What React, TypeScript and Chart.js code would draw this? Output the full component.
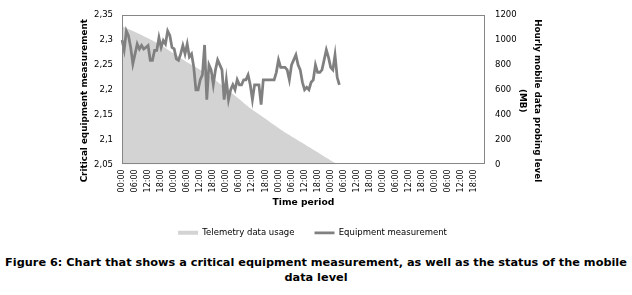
import React, { useEffect, useRef } from "react";
import { Chart, registerables } from "chart.js";

Chart.register(...registerables);

// ---- data -------------------------------------------------------------
const HOURS = [
  "00:00", "01:00", "02:00", "03:00", "04:00", "05:00", "06:00", "07:00",
  "08:00", "09:00", "10:00", "11:00", "12:00", "13:00", "14:00", "15:00",
  "16:00", "17:00", "18:00", "19:00", "20:00", "21:00", "22:00", "23:00",
];
const DAY_COUNT = 7;
const LABEL_EVERY = 6;
const CATEGORIES: string[] = [];
for (let d = 0; d < DAY_COUNT; d++) for (const h of HOURS) CATEGORIES.push(h);

const LEFT_TICKS = ["2,05", "2,1", "2,15", "2,2", "2,25", "2,3", "2,35"];
const RIGHT_TICKS = ["0", "200", "400", "600", "800", "1000", "1200"];

const X_TITLE = "Time period";
const LEFT_TITLE = "Critical equipment measurement";
const RIGHT_TITLE = ["Hourly mobile data probing level", "(MB)"];

// Hourly equipment measurement (left axis)
const EQUIPMENT = [
  2.30, 2.28, 2.318, 2.308, 2.285, 2.252, 2.272, 2.292, 2.282, 2.289,
  2.282, 2.285, 2.289, 2.259, 2.259, 2.279, 2.279, 2.305, 2.285, 2.299,
  2.292, 2.318, 2.309, 2.285, 2.282, 2.262, 2.259, 2.272, 2.289, 2.272,
  2.292, 2.266, 2.272, 2.246, 2.20, 2.20, 2.22, 2.23, 2.29, 2.18,
  2.25, 2.24, 2.21, 2.24, 2.26, 2.25, 2.24, 2.18, 2.22, 2.18,
  2.20, 2.21, 2.20, 2.22, 2.21, 2.21, 2.22, 2.22, 2.23, 2.21,
  2.18, 2.21, 2.21, 2.21, 2.17, 2.22, 2.22, 2.22, 2.22, 2.22,
  2.22, 2.235, 2.26, 2.245, 2.245, 2.245, 2.24, 2.22, 2.25, 2.26,
  2.27, 2.25, 2.24, 2.215, 2.20, 2.205, 2.20, 2.215, 2.22, 2.25,
  2.235, 2.235, 2.24, 2.26, 2.28, 2.265, 2.245, 2.24, 2.27, 2.225,
  2.21,
];

// Hourly telemetry data usage in MB (right axis)
const TELEMETRY = [
  1110, 1102, 1095, 1087, 1080, 1072, 1064, 1057, 1049, 1040,
  1031, 1022, 1013, 1004, 995, 985, 975, 966, 956, 946,
  935, 923, 912, 900, 889, 877, 866, 854, 843, 831,
  820, 810, 800, 790, 780, 770, 759, 749, 738, 727,
  715, 703, 690, 677, 663, 649, 635, 621, 607, 593,
  579, 565, 551, 537, 523, 509, 494, 480, 466, 452,
  440, 428, 415, 403, 391, 378, 366, 354, 341, 329,
  317, 305, 292, 280, 268, 257, 247, 236, 225, 215,
  204, 193, 183, 172, 161, 150, 140, 129, 118, 107,
  97, 86, 75, 64, 54, 43, 32, 21, 11, 0,
];

const CAPTION = [
  "Figure 6: Chart that shows a critical equipment measurement, as well as the status of the mobile",
  "data level",
];

// ---- styles -----------------------------------------------------------
const FONT = "'DejaVu Sans', sans-serif";
const AREA_COLOR = "#d3d3d3";
const LINE_COLOR = "#808080";
const FRAME_COLOR = "#868686";
const TEXT_COLOR = "#000000";
const Y_TITLE_FONT = `bold 8.8px ${FONT}`;

const framePlugin = {
  id: "frame",
  afterDatasetsDraw(chart: any) {
    const { ctx, chartArea: a } = chart;
    ctx.save();
    ctx.strokeStyle = FRAME_COLOR;
    ctx.lineWidth = 1;
    const l = Math.round(a.left) + 0.5;
    const t = Math.round(a.top) + 0.5;
    const r = Math.round(a.right) - 0.5;
    const b = Math.round(a.bottom) - 0.5;
    ctx.strokeRect(l, t, r - l, b - t);
    ctx.restore();
  },
};

// Vertical axis titles (Excel places them slightly below the plot centre)
const yTitlesPlugin = {
  id: "yTitles",
  afterDraw(chart: any) {
    const { ctx, chartArea: a } = chart;
    const cy = (a.top + a.bottom) / 2 + 11;
    ctx.save();
    ctx.fillStyle = TEXT_COLOR;
    ctx.font = Y_TITLE_FONT;
    ctx.textAlign = "center";
    ctx.textBaseline = "middle";
    ctx.save();
    ctx.translate(a.left - 37, cy);
    ctx.rotate(-Math.PI / 2);
    ctx.fillText(LEFT_TITLE, 0, 0);
    ctx.restore();
    ctx.save();
    ctx.translate(a.right + 52, cy);
    ctx.rotate(Math.PI / 2);
    RIGHT_TITLE.forEach((line, i) => ctx.fillText(line, 0, i * 15));
    ctx.restore();
    ctx.restore();
  },
};

export default function App() {
  const ref = useRef<HTMLCanvasElement | null>(null);

  useEffect(() => {
    if (!ref.current) return;
    Chart.defaults.font.family = FONT;
    Chart.defaults.color = TEXT_COLOR;
    const chart = new Chart(ref.current, {
      type: "line",
      data: {
        labels: CATEGORIES,
        datasets: [
          {
            label: "Telemetry data usage",
            data: TELEMETRY,
            yAxisID: "y1",
            fill: "origin",
            backgroundColor: AREA_COLOR,
            borderColor: AREA_COLOR,
            borderWidth: 0,
            pointRadius: 0,
            tension: 0,
            order: 2,
            pointStyle: "rect",
          } as any,
          {
            label: "Equipment measurement",
            data: EQUIPMENT,
            yAxisID: "y",
            fill: false,
            borderColor: LINE_COLOR,
            backgroundColor: LINE_COLOR,
            borderWidth: 2.75,
            pointRadius: 0,
            tension: 0,
            order: 1,
            pointStyle: "line",
          } as any,
        ],
      },
      options: {
        responsive: false,
        animation: false,
        events: [],
        layout: { padding: { top: 7, left: 0, right: 7, bottom: 4 } },
        plugins: {
          tooltip: { enabled: false },
          legend: {
            position: "bottom",
            labels: {
              usePointStyle: true,
              pointStyleWidth: 20,
              boxHeight: 4,
              padding: 20,
              color: TEXT_COLOR,
              font: { size: 8.5, family: FONT },
              sort: (a: any, b: any) => a.datasetIndex - b.datasetIndex,
            },
          },
        },
        scales: {
          x: {
            type: "category",
            offset: false,
            grid: { display: false, drawTicks: false },
            border: { display: false },
            ticks: {
              autoSkip: false,
              maxRotation: 90,
              minRotation: 90,
              padding: 5,
              font: { size: 8, family: FONT },
              color: TEXT_COLOR,
              callback: (_v: any, i: number) =>
                i % LABEL_EVERY === 0 ? CATEGORIES[i] : null,
            },
            title: {
              display: true,
              text: X_TITLE,
              font: { size: 9.2, weight: "bold", family: FONT },
              color: TEXT_COLOR,
              padding: { top: 0, bottom: 0 },
            },
          },
          y: {
            position: "left",
            min: 2.05,
            max: 2.35,
            grid: { display: false, drawTicks: false },
            border: { display: false },
            afterFit: (s: any) => {
              s.width = 122;
            },
            ticks: {
              stepSize: 0.05,
              padding: 9,
              font: { size: 8.5, family: FONT },
              color: TEXT_COLOR,
              callback: (_v: any, i: number) => LEFT_TICKS[i],
            },
          },
          y1: {
            position: "right",
            min: 0,
            max: 1200,
            grid: { display: false, drawTicks: false },
            border: { display: false },
            afterFit: (s: any) => {
              s.width = 140;
            },
            ticks: {
              stepSize: 200,
              padding: 10,
              font: { size: 8.5, family: FONT },
              color: TEXT_COLOR,
              callback: (_v: any, i: number) => RIGHT_TICKS[i],
            },
          },
        },
      },
      plugins: [framePlugin, yTitlesPlugin],
    } as any);
    return () => chart.destroy();
  }, []);

  return (
    <div style={{ position: "absolute", left: 0, top: 0, width: 632, height: 295, background: "#fff" }}>
      <canvas ref={ref} width={632} height={251} style={{ display: "block" }} />
      <div
        style={{
          position: "absolute",
          left: 0,
          top: 255,
          width: 632,
          textAlign: "center",
          fontFamily: FONT,
          fontWeight: "bold",
          fontSize: 11.3,
          lineHeight: "15px",
          color: TEXT_COLOR,
          whiteSpace: "nowrap",
        }}
      >
        {CAPTION.map((c, i) => (
          <div key={i}>{c}</div>
        ))}
      </div>
    </div>
  );
}
